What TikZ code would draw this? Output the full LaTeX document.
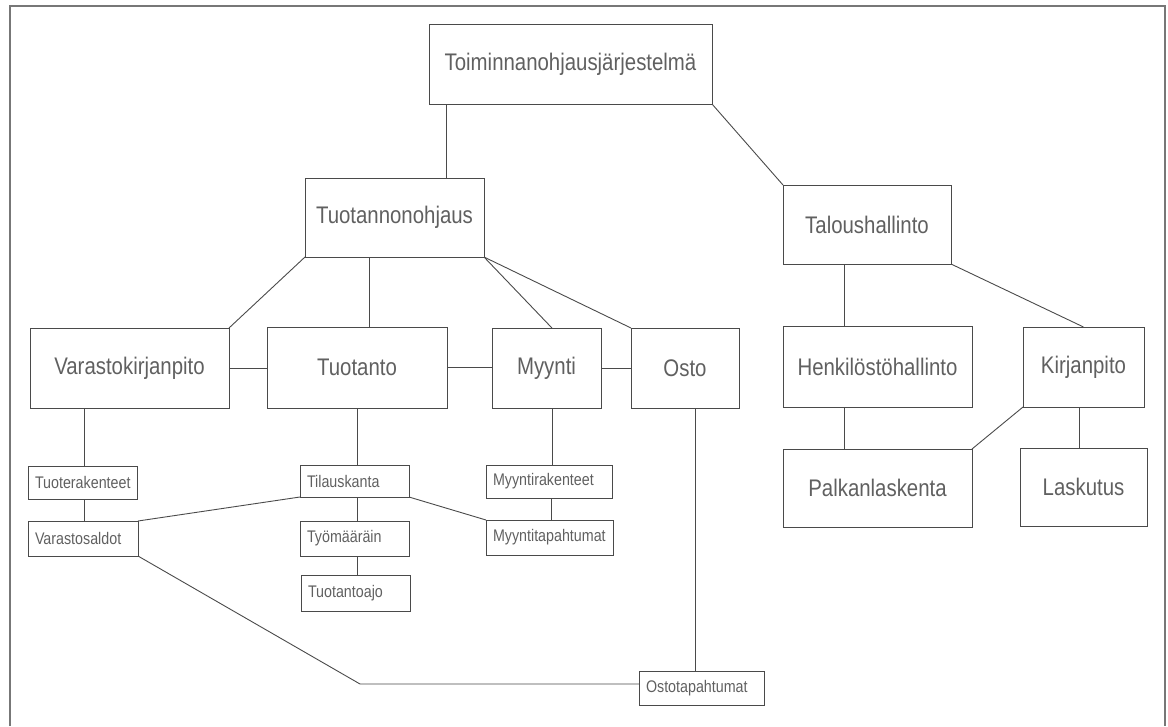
\documentclass[tikz,border=0pt]{standalone}
\usepackage{fontspec}
\setmainfont{Liberation Sans}
\newfontfamily\cadfont[FakeStretch=0.85]{Liberation Sans}
\usetikzlibrary{calc}
\definecolor{ink}{HTML}{4A4A4A}
\definecolor{txt}{HTML}{606060}
\definecolor{frame}{HTML}{777777}
\tikzset{
  box/.style={draw=ink, line width=1pt, rectangle, inner sep=0pt, outer sep=0pt,
    text=txt, font=\cadfont\fontsize{24}{28}\selectfont, align=center},
  smallbox/.style={draw=ink, line width=1pt, rectangle, inner xsep=7pt, inner ysep=0pt,
    outer sep=0pt, text=txt, font=\cadfont\fontsize{16.8}{19}\selectfont,
    align=left, text width=#1},
  link/.style={draw=ink, line width=0.9pt}
}
\begin{document}
\begin{tikzpicture}[x=1pt, y=-1pt]
\useasboundingbox (0,0) rectangle (1168,726);
% outer frame
\draw[frame, line width=1.4pt] (10,726) -- (10,6) -- (1165,6) -- (1165,726);

% main level
\node[box, minimum width=283pt, minimum height=80pt] (top) at (570.5,64) {Toiminnanohjausjärjestelmä};
\node[box, minimum width=179pt, minimum height=79pt] (tohj) at (394.5,217.5) {Tuotannonohjaus};
\node[box, minimum width=168pt, minimum height=79pt] (talous) at (867,224.5) {Taloushallinto};

% second level
\node[box, minimum width=199pt, minimum height=80pt] (vkp) at (129.5,368) {Varastokirjanpito};
\node[box, minimum width=180pt, minimum height=81pt] (tpo) at (357,367.5) {Tuotanto};
\node[box, minimum width=109pt, minimum height=80pt] (myy) at (546.5,368) {Myynti};
\node[box, minimum width=108pt, minimum height=80pt] (osto) at (685,368) {Osto};
\node[box, minimum width=189pt, minimum height=81pt] (henk) at (877.5,366.5) {Henkilöstöhallinto};
\node[box, minimum width=121pt, minimum height=80pt] (kirj) at (1083.5,367) {Kirjanpito};
\node[box, minimum width=189pt, minimum height=78pt] (palk) at (877.5,488) {Palkanlaskenta};
\node[box, minimum width=127pt, minimum height=78pt] (lask) at (1083.5,487) {Laskutus};

% detail boxes
\node[smallbox=95pt, minimum height=33pt] (tuoter) at (82.5,482.5) {Tuoterakenteet};
\node[smallbox=96pt, minimum height=35pt] (vsaldo) at (83,538.5) {Varastosaldot};
\node[smallbox=95pt, minimum height=32pt] (tilaus) at (354.5,481) {Tilauskanta};
\node[smallbox=95pt, minimum height=35pt] (tyom) at (354.5,538.5) {Työmääräin};
\node[smallbox=95pt, minimum height=36pt] (tajo) at (355.5,593) {Tuotantoajo};
\node[smallbox=112pt, minimum height=33pt] (myyr) at (549,481.5) {Myyntirakenteet};
\node[smallbox=113pt, minimum height=35pt] (myyt) at (549.5,537.5) {Myyntitapahtumat};
\node[smallbox=111pt, minimum height=34pt] (ostot) at (701.5,688) {Ostotapahtumat};

% attachment points
\coordinate (c1) at ($(top.south west)!0.06!(top.south east)$);
\coordinate (c2) at ($(tpo.north west)!0.567!(tpo.north east)$);
\coordinate (c3) at ($(myy.north west)!0.55!(myy.north east)$);
\coordinate (c4) at ($(talous.south west)!0.363!(talous.south east)$);
\coordinate (c5) at ($(kirj.south west)!0.47!(kirj.south east)$);
\coordinate (c6) at ($(vkp.south west)!0.276!(vkp.south east)$);
\coordinate (c7) at ($(tuoter.south west)!0.52!(tuoter.south east)$);
\coordinate (c8) at ($(myy.south west)!0.55!(myy.south east)$);
\coordinate (c9) at ($(myyr.south west)!0.52!(myyr.south east)$);
\coordinate (c10) at ($(osto.south west)!0.6!(osto.south east)$);
\coordinate (bend) at (360,684);

% connectors
\draw[link] (c1) -- (c1 |- tohj.north);
\draw[link] (top.south east) -- (talous.north west);
\draw[link] (tohj.south west) -- (vkp.north east);
\draw[link] (c2) -- (c2 |- tohj.south);
\draw[link] (tohj.south east) -- (c3);
\draw[link] (tohj.south east) -- (osto.north west);
\draw[link] (vkp.east) -- (vkp.east -| tpo.west);
\draw[link] (tpo.east) -- (tpo.east -| myy.west);
\draw[link] (myy.east) -- (myy.east -| osto.west);

\draw[link] (c4) -- (c4 |- henk.north);
\draw[link] (c4 |- henk.south) -- (c4 |- palk.north);
\draw[link] (talous.south east) -- (kirj.north);
\draw[link] (kirj.south west) -- (palk.north east);
\draw[link] (c5) -- (c5 |- lask.north);

\draw[link] (c6) -- (c6 |- tuoter.north);
\draw[link] (c7) -- (c7 |- vsaldo.north);
\draw[link] (tpo.south) -- (tpo.south |- tilaus.north);
\draw[link] (tpo.south |- tilaus.south) -- (tpo.south |- tyom.north);
\draw[link] (tpo.south |- tyom.south) -- (tpo.south |- tajo.north);
\draw[link] (vsaldo.north east) -- (tilaus.south west);
\draw[link] (tilaus.south east) -- (myyt.north west);
\draw[link] (c8) -- (c8 |- myyr.north);
\draw[link] (c9) -- (c9 |- myyt.north);
\draw[link] (c10) -- (c10 |- ostot.north);
\draw[link] (vsaldo.south east) -- (bend) -- (bend -| ostot.west);
\end{tikzpicture}
\end{document}
